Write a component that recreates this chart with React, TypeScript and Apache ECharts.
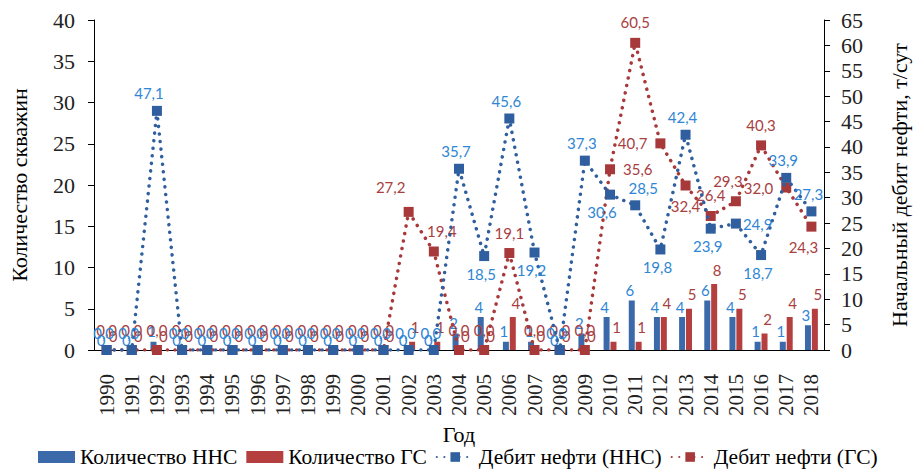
import React, { useEffect, useRef } from "react";
import * as echarts from "echarts";

const years = ["1990","1991","1992","1993","1994","1995","1996","1997","1998","1999","2000","2001","2002","2003","2004","2005","2006","2007","2008","2009","2010","2011","2012","2013","2014","2015","2016","2017","2018"];
const countNNS = [0,0,1,0,0,0,0,0,0,0,0,0,0,0,2,4,1,1,0,2,4,6,4,4,6,4,1,1,3];
const countGS = [0,0,0,0,0,0,0,0,0,0,0,0,1,1,0,0,4,0,0,0,1,1,4,5,8,5,2,4,5];
const debitNNS = [0,0,47.1,0,0,0,0,0,0,0,0,0,0,0,35.7,18.5,45.6,19.2,0,37.3,30.6,28.5,19.8,42.4,23.9,24.9,18.7,33.9,27.3];
const debitGS = [0,0,0,0,0,0,0,0,0,0,0,0,27.2,19.4,0,0,19.1,0,0,0,35.6,60.5,40.7,32.4,26.4,29.3,40.3,32.0,24.3];
const leftTicks = { min: 0, max: 40, interval: 5 };
const rightTicks = { min: 0, max: 65, interval: 5 };

// label placement (layout only)
const posNNS = ["t","t","tl","t","t","t","t","t","t","t","t","t","t","t","t","b","t","b","t","t","bl","tr","b","t","b","r","b","t","t"];
const posGS = ["t","t","t","t","t","t","t","t","t","t","t","t","tl2","tr","t","t","t","t","t","t","r","t","l","b","t","tl","t","l","bl"];

const BLUE_BAR = "#3b69aa";
const RED_BAR = "#b43f3e";
const BLUE_MK = "#2f5f9e";
const RED_MK = "#a8393a";
const BLUE_LBL = "#2f86d4";
const RED_LBL = "#a8403f";
const SERIF = "Liberation Serif";
const SANS = "Lato";

function labelFor(p: string) {
  switch (p) {
    case "b": return { position: "bottom" };
    case "l": return { position: "left" };
    case "r": return { position: "right" };
    case "tl": return { position: "top", offset: [-8, 0] };
    case "tl2": return { position: "top", offset: [-18, -4] };
    case "tr": return { position: "top", offset: [8, 0] };
    case "bl": return { position: "bottom", offset: [-8, 0] };
    default: return { position: "top" };
  }
}

const fmt = (p: any) => Number(p.value).toFixed(1).replace(".", ",");

export default function App() {
  const ref = useRef<HTMLDivElement>(null);
  useEffect(() => {
    if (!ref.current) return;
    const chart = echarts.init(ref.current, undefined, { renderer: "svg" });
    const lineStyleBase = { width: 3.5, type: [0.1, 7.5] as any, cap: "round" as const };
    chart.setOption({
      animation: false,
      textStyle: { fontFamily: SERIF },
      grid: { left: 84, right: 80, top: 20, bottom: 119 },
      legend: {
        left: 38,
        top: 446,
        padding: 0,
        itemWidth: 37,
        itemHeight: 12,
        itemGap: 9,
        textStyle: { fontFamily: SERIF, fontSize: 21.5, lineHeight: 19, color: "#000" },
        data: [
          { name: "Количество ННС", icon: "rect" },
          { name: "Количество ГС", icon: "rect" },
          { name: "Дебит нефти (ННС)" },
          { name: "Дебит нефти (ГС)" },
        ],
      },
      xAxis: {
        type: "category",
        data: years,
        name: "Год",
        nameLocation: "middle",
        nameGap: 67,
        nameTextStyle: { fontFamily: SERIF, fontSize: 22, color: "#000" },
        axisLine: { lineStyle: { color: "#000", width: 1 } },
        axisTick: { alignWithLabel: true, length: 5, lineStyle: { color: "#000" } },
        axisLabel: { rotate: 90, margin: 24, fontFamily: SERIF, fontSize: 21, color: "#222", interval: 0 },
        splitLine: { show: false },
      },
      yAxis: [
        {
          type: "value",
          ...leftTicks,
          name: "Количество скважин",
          nameLocation: "middle",
          nameGap: 64,
          nameRotate: 90,
          nameTextStyle: { fontFamily: SERIF, fontSize: 22, color: "#000" },
          axisLine: { show: true, lineStyle: { color: "#000" } },
          axisTick: { show: true, length: 6, lineStyle: { color: "#000" } },
          axisLabel: { fontFamily: SERIF, fontSize: 22, color: "#222", margin: 19 },
          splitLine: { show: false },
        },
        {
          type: "value",
          ...rightTicks,
          name: "Начальный дебит нефти, т/сут",
          nameLocation: "middle",
          nameGap: 64,
          nameRotate: 90,
          nameTextStyle: { fontFamily: SERIF, fontSize: 22, color: "#000" },
          axisLine: { show: true, lineStyle: { color: "#000" } },
          axisTick: { show: true, length: 6, lineStyle: { color: "#000" } },
          axisLabel: { fontFamily: SERIF, fontSize: 22, color: "#222", margin: 17 },
          splitLine: { show: false },
        },
      ],
      series: [
        {
          name: "Количество ННС",
          type: "bar",
          data: countNNS,
          barWidth: 6,
          barGap: "15%",
          itemStyle: { color: BLUE_BAR },
          label: { show: true, position: "top", distance: 3, offset: [-2, 0], color: BLUE_LBL, fontFamily: SANS, fontSize: 15 },
          z: 2,
        },
        {
          name: "Количество ГС",
          type: "bar",
          data: countGS,
          barWidth: 6,
          barGap: "15%",
          itemStyle: { color: RED_BAR },
          label: { show: true, position: "top", distance: 3, offset: [3, -4], color: RED_LBL, fontFamily: SANS, fontSize: 15 },
          z: 2,
        },
        {
          name: "Дебит нефти (ННС)",
          type: "line",
          yAxisIndex: 1,
          data: debitNNS.map((v, i) => ({ value: v, label: labelFor(posNNS[i]) })),
          symbol: "rect",
          symbolSize: 10,
          itemStyle: { color: BLUE_MK },
          lineStyle: { ...lineStyleBase, color: BLUE_MK },
          label: { show: true, formatter: fmt, color: BLUE_LBL, fontFamily: SANS, fontSize: 15, distance: 5, offset: [-3, 0] },
          z: 4,
        },
        {
          name: "Дебит нефти (ГС)",
          type: "line",
          yAxisIndex: 1,
          data: debitGS.map((v, i) => ({ value: v, label: labelFor(posGS[i]) })),
          symbol: "rect",
          symbolSize: 10,
          itemStyle: { color: RED_MK },
          lineStyle: { ...lineStyleBase, color: RED_MK },
          label: { show: true, formatter: fmt, color: RED_LBL, fontFamily: SANS, fontSize: 15, distance: 8 },
          z: 3,
        },
      ],
    });
    return () => chart.dispose();
  }, []);
  return <div ref={ref} style={{ width: 918, height: 469, position: "absolute", left: 0, top: 0 }} />;
}
